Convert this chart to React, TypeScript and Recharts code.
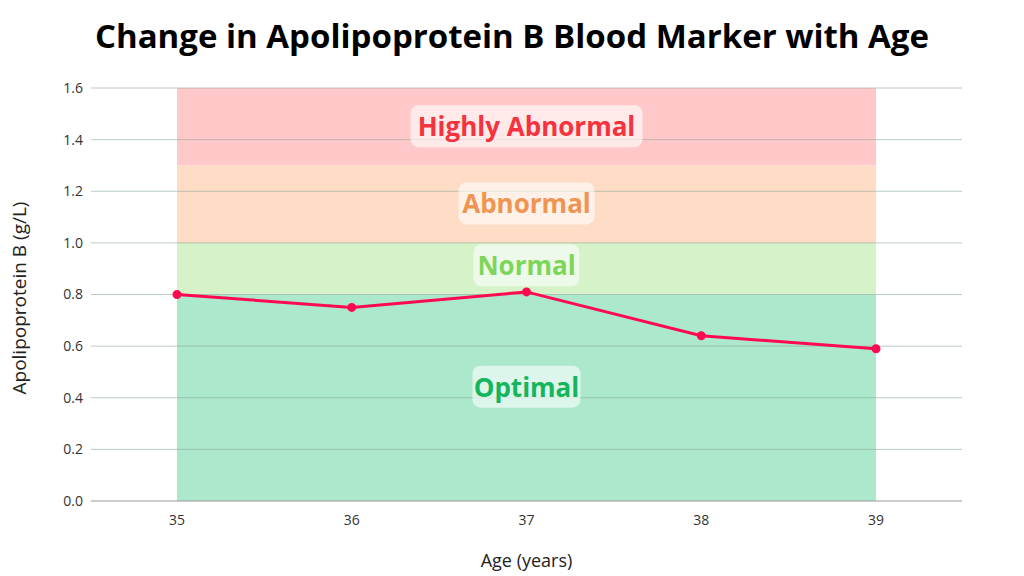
import React from 'react';
import { ComposedChart, Line, XAxis, YAxis, ReferenceArea, ReferenceDot, ReferenceLine } from 'recharts';

const ages = ['35', '36', '37', '38', '39'];
const apoB = [0.8, 0.75, 0.81, 0.64, 0.59];
const yTicks = [0, 0.2, 0.4, 0.6, 0.8, 1.0, 1.2, 1.4, 1.6];
const zones = [
  { name: 'Highly Abnormal', y1: 1.3, y2: 1.6, fill: '#ffc9c9', text: '#f5333f', labelY: 1.452, w: 232 },
  { name: 'Abnormal', y1: 1.0, y2: 1.3, fill: '#ffdcc6', text: '#ef9451', labelY: 1.153, w: 136 },
  { name: 'Normal', y1: 0.8, y2: 1.0, fill: '#d5f2c9', text: '#7dd65a', labelY: 0.913, w: 106 },
  { name: 'Optimal', y1: 0, y2: 0.8, fill: '#abe8cc', text: '#14b55c', labelY: 0.443, w: 108 },
];

const data = ages.map((a, i) => ({ age: a, v: apoB[i] }));

const ZoneLabel = (props: any) => {
  const { cx, cy, name, color, w } = props;
  return (
    <g>
      <rect x={cx - w / 2} y={cy - 21} width={w} height={42} rx={8} fill="#ffffff" fillOpacity={0.6} />
      <text x={cx} y={cy} textAnchor="middle" dominantBaseline="central" fill={color}
        style={{ fontFamily: 'Open Sans', fontWeight: 700, fontSize: 26 }}>{name}</text>
    </g>
  );
};

export default function App() {
  return (
    <div style={{ position: 'absolute', left: 0, top: 0, width: 1024, height: 576, background: '#fff' }}>
      <div style={{ position: 'absolute', top: 13, left: 0, width: 1024, textAlign: 'center', fontFamily: 'Open Sans', fontWeight: 700, fontSize: 33, color: '#000' }}>
        Change in Apolipoprotein B Blood Marker with Age
      </div>
      <div style={{ position: 'absolute', top: 0, left: 0 }}>
        <ComposedChart width={1024} height={576} data={data} margin={{ top: 88, right: 62, bottom: 45, left: 31 }}>
          {zones.map((z) => (
            <ReferenceArea key={z.name} y1={z.y1} y2={z.y2} fill={z.fill} fillOpacity={1} stroke="none" ifOverflow="hidden" />
          ))}
          {yTicks.slice(1).map((t) => (
            <ReferenceLine key={'g' + t} y={t} stroke="#8fa89a" strokeOpacity={0.6} />
          ))}
          <XAxis dataKey="age" tickLine={false} axisLine={{ stroke: '#999' }} padding={{ left: 86, right: 86 }}
            tick={{ fontSize: 14, fill: '#333', fontFamily: 'Open Sans' }} tickMargin={8}
            label={{ value: 'Age (years)', position: 'insideBottom', offset: -36, fontSize: 18, fill: '#222', fontFamily: 'Open Sans' }} />
          <YAxis width={60} domain={[0, 1.6]} ticks={yTicks} tickFormatter={(v: number) => v.toFixed(1)}
            axisLine={false} tickLine={false} tick={{ fontSize: 14, fill: '#333', fontFamily: 'Open Sans' }}
            label={{ value: 'Apolipoprotein B (g/L)', angle: -90, position: 'insideLeft', offset: -12, dy: 100, fontSize: 19, fill: '#222', fontFamily: 'Open Sans' }} />
          {zones.map((z) => (
            <ReferenceDot key={'l' + z.name} x="37" y={z.labelY} r={0}
              shape={(p: any) => <ZoneLabel cx={p.cx} cy={p.cy} name={z.name} color={z.text} w={z.w} />} />
          ))}
          <Line type="linear" dataKey="v" stroke="#ff0a50" strokeWidth={3} isAnimationActive={false}
            dot={{ r: 3, fill: '#ff0a50', stroke: '#ff0a50' }} />
        </ComposedChart>
      </div>
    </div>
  );
}
